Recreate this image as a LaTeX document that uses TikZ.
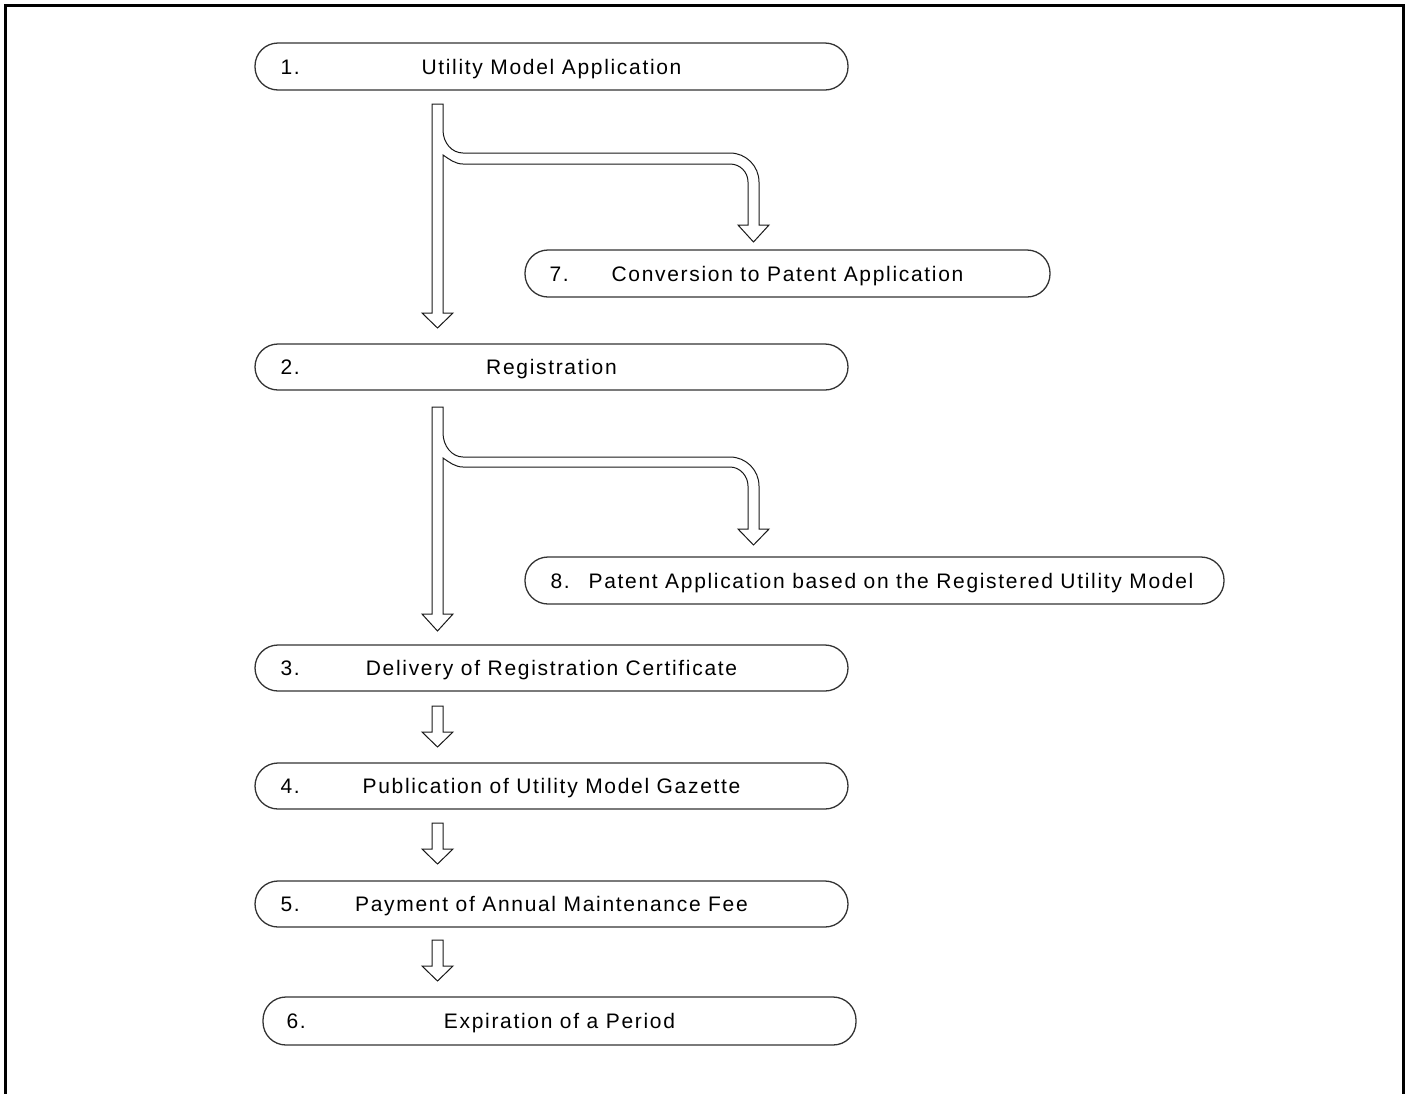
\documentclass[tikz,border=0pt]{standalone}
\usepackage{fontspec}
\setmainfont{Liberation Sans}[LetterSpace=8]
\usetikzlibrary{calc}
\begin{document}
\begin{tikzpicture}[x=1pt,y=-1pt,
  box/.style={draw=black!80, line width=1.3pt, rounded corners=23pt, minimum height=47pt, inner sep=0pt},
  num/.style={font=\fontsize{21}{24}\selectfont, inner sep=0pt, anchor=base west},
  ttl/.style={font=\fontsize{21}{24}\selectfont, inner sep=0pt, anchor=base},
  hollow/.style={draw=black!90, line width=1pt, fill=white, line join=miter},
  frame/.style={line width=3.5pt, draw=black}
]
\useasboundingbox (0,0) rectangle (1407,1093);
\draw[frame] (5.5,1100) -- (5.5,5.5) -- (1403.5,5.5) -- (1403.5,1100);

% boxes
\node[box, minimum width=593pt] (b1) at (551.5,66.5) {};
\node[box, minimum width=525pt] (b7) at (787.5,273.5) {};
\node[box, minimum width=593pt, minimum height=46pt] (b2) at (551.5,367) {};
\node[box, minimum width=699pt] (b8) at (874.5,580.5) {};
\node[box, minimum width=593pt, minimum height=46pt] (b3) at (551.5,668) {};
\node[box, minimum width=593pt, minimum height=46pt] (b4) at (551.5,786) {};
\node[box, minimum width=593pt, minimum height=46pt] (b5) at (551.5,904) {};
\node[box, minimum width=593pt, minimum height=48pt] (b6) at (559.5,1021) {};

% labels
\node[num] (n1) at ($(b1.west)+(26,7.5)$) {1.};
\node[ttl] (t1) at ($(b1.center)+(0,7.5)$) {Utility Model Application};
\node[num] (n7) at ($(b7.west)+(25,7.5)$) {7.};
\node[ttl] (t7) at ($(b7.center)+(0,7.5)$) {Conversion to Patent Application};
\node[num] (n2) at ($(b2.west)+(26,7.5)$) {2.};
\node[ttl] (t2) at ($(b2.center)+(0,7.5)$) {Registration};
\node[num] (n8) at ($(b8.west)+(26,7.5)$) {8.};
\node[ttl] (t8) at ($(b8.center)+(16.5,7.5)$) {Patent Application based on the Registered Utility Model};
\node[num] (n3) at ($(b3.west)+(26,7.5)$) {3.};
\node[ttl] (t3) at ($(b3.center)+(0,7.5)$) {Delivery of Registration Certificate};
\node[num] (n4) at ($(b4.west)+(26,7.5)$) {4.};
\node[ttl] (t4) at ($(b4.center)+(0,7.5)$) {Publication of Utility Model Gazette};
\node[num] (n5) at ($(b5.west)+(26,7.5)$) {5.};
\node[ttl] (t5) at ($(b5.center)+(0,7.5)$) {Payment of Annual Maintenance Fee};
\node[num] (n6) at ($(b6.west)+(24,7.5)$) {6.};
\node[ttl] (t6) at ($(b6.center)+(0,7.5)$) {Expiration of a Period};

% branching hollow arrow 1 -> 2 and 1 -> 7
\draw[hollow] (432,104) -- (443,104) -- (443,130)
  .. controls (443,143) and (452,153) .. (463,153) -- (730,153)
  .. controls (746,153) and (759,166) .. (759,182) -- (759,225)
  -- (769,225) -- (753.5,242) -- (738,225) -- (748,225) -- (748,182)
  .. controls (748,172) and (740,164) .. (730,164) -- (463,164)
  .. controls (455,164) and (449,159) .. (443,155) -- (443,313)
  -- (453,313) -- (437.5,328) -- (422,313) -- (432,313) -- cycle;

% branching hollow arrow 2 -> 3 and 2 -> 8
\draw[hollow] (432,407) -- (443,407) -- (443,433)
  .. controls (443,446) and (452,457) .. (463,457) -- (730,457)
  .. controls (746,457) and (759,470) .. (759,486) -- (759,529)
  -- (769,529) -- (753.5,545) -- (738,529) -- (748,529) -- (748,486)
  .. controls (748,476) and (740,467) .. (730,467) -- (463,467)
  .. controls (455,467) and (449,462) .. (443,458) -- (443,614)
  -- (453,614) -- (437.5,631) -- (422,614) -- (432,614) -- cycle;

% simple hollow arrows
\foreach \t in {706,823,940}{
  \draw[hollow] (432,\t) -- (443,\t) -- (443,\t+26) -- (453,\t+26)
    -- (437.5,\t+41) -- (422,\t+26) -- (432,\t+26) -- cycle;
}
\end{tikzpicture}
\end{document}
